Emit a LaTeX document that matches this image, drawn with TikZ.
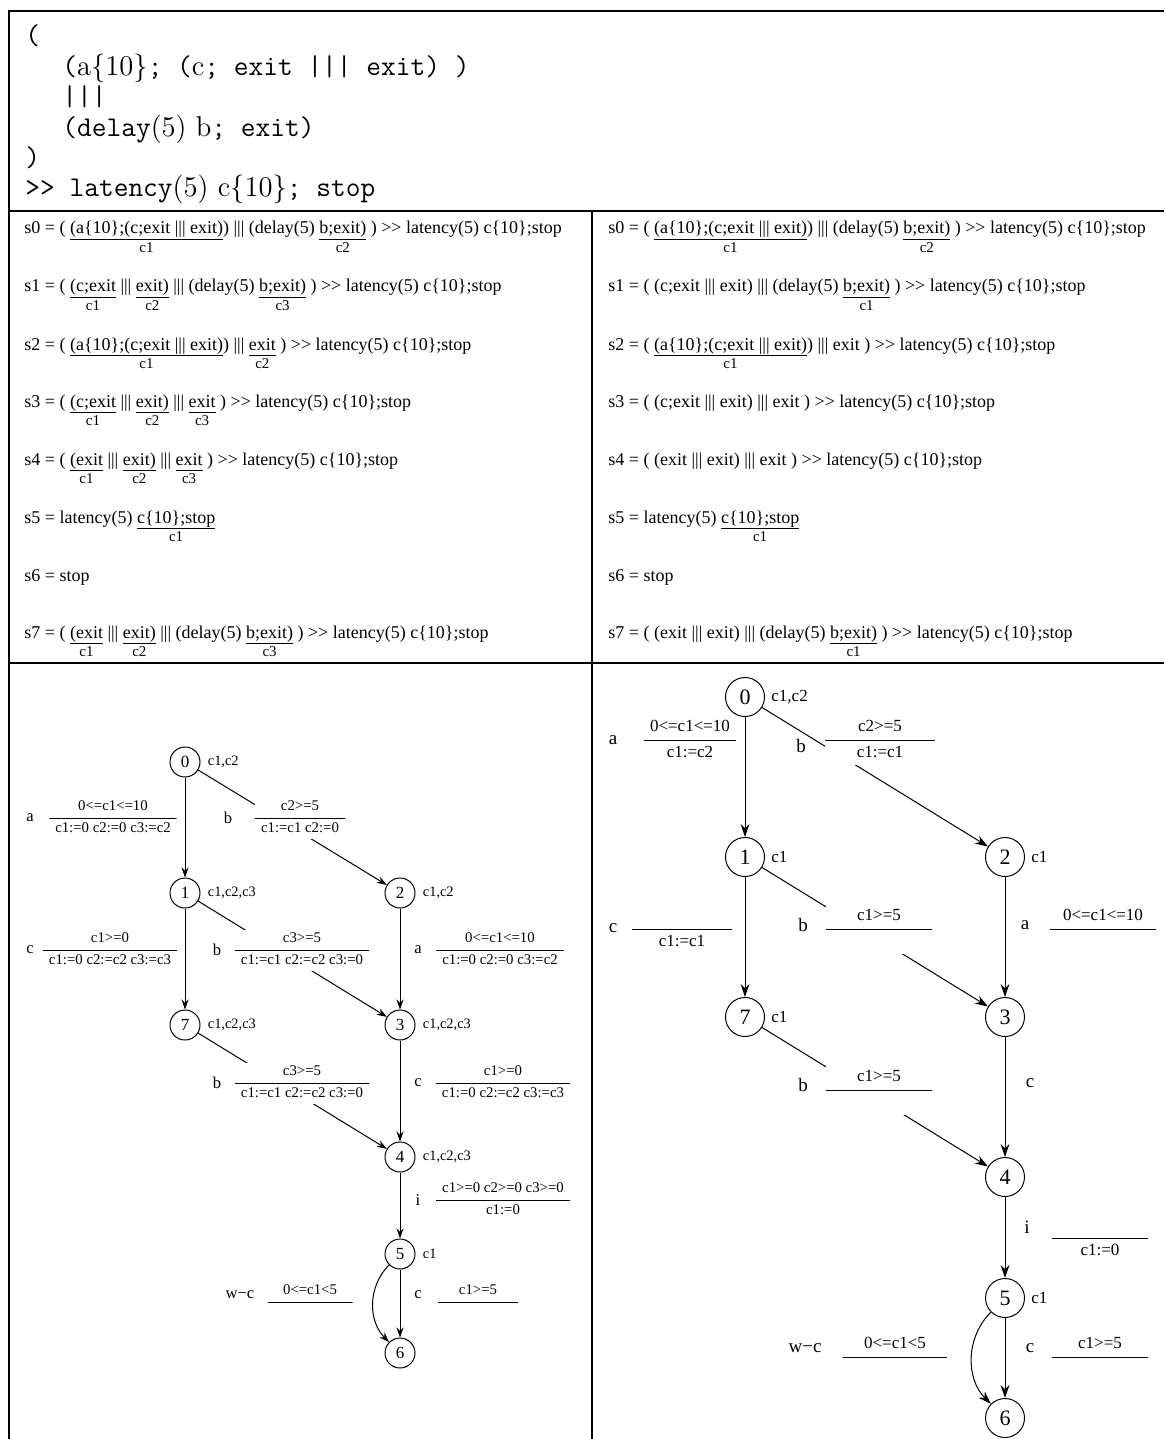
\documentclass[tikz,border=0pt]{standalone}
\usepackage{fontspec}
\newfontfamily\tms{Liberation Serif}
\usetikzlibrary{arrows.meta, positioning}

% underlined part of a state term with its clock below
\newcommand{\clk}[2]{{\def\arraystretch{0.8}\begin{tabular}[t]{@{}c@{}}#1\\\hline{\fontsize{7.5}{9}\selectfont#2}\end{tabular}}}
% guard over reset
\newcommand{\grd}[2]{\strut#1\\[1.5pt]\strut#2}

\begin{document}
\begin{tikzpicture}[
    x=0.5pt, y=-0.5pt,
    tabrule/.style={line width=1pt},
    code/.style={anchor=base west, inner sep=0pt, font=\fontsize{14.3}{17}\selectfont},
    staterow/.style={anchor=base west, inner sep=0pt, font=\tms\fontsize{9}{11}\selectfont},
    st/.style={circle, draw, line width=0.5pt, minimum size=15pt, inner sep=0pt, font=\tms\fontsize{8.5}{10}\selectfont},
    bigst/.style={st, minimum size=19.5pt, font=\tms\fontsize{11}{13}\selectfont},
    clks/.style={inner sep=1pt, font=\tms\fontsize{7.2}{8}\selectfont},
    bigclks/.style={clks, font=\tms\fontsize{8.5}{10}\selectfont},
    act/.style={inner sep=0pt, font=\tms\fontsize{8.3}{9}\selectfont},
    bigact/.style={act, font=\tms\fontsize{9.5}{11}\selectfont},
    guard/.style={fill=white, inner xsep=3pt, inner ysep=0pt, align=center,
        font=\tms\fontsize{7.4}{9.5}\selectfont,
        path picture={\draw[line width=0.5pt] (path picture bounding box.west) -- (path picture bounding box.east);}},
    bigguard/.style={guard, font=\tms\fontsize{8.5}{11.5}\selectfont, minimum width=50pt},
    arr/.style={-{Stealth[length=5pt, width=3.5pt]}, line width=0.5pt},
    bigarr/.style={-{Stealth[length=6.5pt, width=4.4pt]}, line width=0.5pt}
]
\useasboundingbox (0,0) rectangle (1164,1439);

% ============ TABLE ============
\draw[tabrule] (1164,11) -- (9,11) -- (9,1439);
\draw[tabrule] (9,211) -- (1164,211);
\draw[tabrule] (592,211) -- (592,1439);
\draw[tabrule] (9,663) -- (1164,663);

% ============ SPECIFICATION ============
\node[code] (c1) at (25,45) {\texttt{(}};
\node[code] (c2) at (62,75.4) {\texttt{(}a\{10\}\texttt{; (}c\texttt{; exit ||| exit) )}};
\node[code] (c3) at (62,105.8) {\texttt{|||}};
\node[code] (c4) at (62,136.2) {\texttt{(delay}(5) b\texttt{; exit)}};
\node[code] (c5) at (25,166.6) {\texttt{)}};
\node[code] (c6) at (25,197) {\texttt{>> latency}(5) c\{10\}\texttt{; stop}};

% ============ STATES, LEFT ============
\node[staterow] (ls0) at (24,234) {s0 = ( \clk{(a\{10\};(c;exit ||| exit)}{c1}) ||| (delay(5) \clk{b;exit)}{c2} ) >> latency(5) c\{10\};stop};
\node[staterow] (ls1) at (24,292) {s1 = ( \clk{(c;exit}{c1} ||| \clk{exit)}{c2} ||| (delay(5) \clk{b;exit)}{c3} ) >> latency(5) c\{10\};stop};
\node[staterow] (ls2) at (24,350) {s2 = ( \clk{(a\{10\};(c;exit ||| exit)}{c1}) ||| \clk{exit}{c2} ) >> latency(5) c\{10\};stop};
\node[staterow] (ls3) at (24,407) {s3 = ( \clk{(c;exit}{c1} ||| \clk{exit)}{c2} ||| \clk{exit}{c3} ) >> latency(5) c\{10\};stop};
\node[staterow] (ls4) at (24,465) {s4 = ( \clk{(exit}{c1} ||| \clk{exit)}{c2} ||| \clk{exit}{c3} ) >> latency(5) c\{10\};stop};
\node[staterow] (ls5) at (24,523) {s5 = latency(5) \clk{c\{10\};stop}{c1}};
\node[staterow] (ls6) at (24,581) {s6 = stop};
\node[staterow] (ls7) at (24,638) {s7 = ( \clk{(exit}{c1} ||| \clk{exit)}{c2} ||| (delay(5) \clk{b;exit)}{c3} ) >> latency(5) c\{10\};stop};

% ============ STATES, RIGHT ============
\node[staterow] (rs0) at (608,234) {s0 = ( \clk{(a\{10\};(c;exit ||| exit)}{c1}) ||| (delay(5) \clk{b;exit)}{c2} ) >> latency(5) c\{10\};stop};
\node[staterow] (rs1) at (608,292) {s1 = ( (c;exit ||| exit) ||| (delay(5) \clk{b;exit)}{c1} ) >> latency(5) c\{10\};stop};
\node[staterow] (rs2) at (608,350) {s2 = ( \clk{(a\{10\};(c;exit ||| exit)}{c1}) ||| exit ) >> latency(5) c\{10\};stop};
\node[staterow] (rs3) at (608,407) {s3 = ( (c;exit ||| exit) ||| exit ) >> latency(5) c\{10\};stop};
\node[staterow] (rs4) at (608,465) {s4 = ( (exit ||| exit) ||| exit ) >> latency(5) c\{10\};stop};
\node[staterow] (rs5) at (608,523) {s5 = latency(5) \clk{c\{10\};stop}{c1}};
\node[staterow] (rs6) at (608,581) {s6 = stop};
\node[staterow] (rs7) at (608,638) {s7 = ( (exit ||| exit) ||| (delay(5) \clk{b;exit)}{c1} ) >> latency(5) c\{10\};stop};

% ============ LEFT AUTOMATON ============
\node[st] (l0) at (185,762) {0};
\node[st] (l1) at (185,893) {1};
\node[st] (l2) at (400,893) {2};
\node[st] (l7) at (185,1025) {7};
\node[st] (l3) at (400,1025) {3};
\node[st] (l4) at (400,1157) {4};
\node[st] (l5) at (400,1254) {5};
\node[st] (l6) at (400,1353) {6};

\node[clks, right=2.5pt of l0] {c1,c2};
\node[clks, right=2.5pt of l1] {c1,c2,c3};
\node[clks, right=2.5pt of l2] {c1,c2};
\node[clks, right=2.5pt of l7] {c1,c2,c3};
\node[clks, right=2.5pt of l3] {c1,c2,c3};
\node[clks, right=2.5pt of l4] {c1,c2,c3};
\node[clks, right=2.5pt of l5] {c1};

\draw[arr] (l0) -- (l1);
\draw[arr] (l0) -- (l2);
\draw[arr] (l1) -- (l7);
\draw[arr] (l1) -- (l3);
\draw[arr] (l2) -- (l3);
\draw[arr] (l7) -- (l4);
\draw[arr] (l3) -- (l4);
\draw[arr] (l4) -- (l5);
\draw[arr] (l5) -- (l6);
\draw[arr] (l5) to[bend right=45] (l6);

\node[act] (la01) at (30,818) {a};
\node[guard] (lg01) at (113,818) {\grd{0<=c1<=10}{c1:=0 c2:=0 c3:=c2}};
\node[act] (la02) at (228,818) {b};
\node[guard] (lg02) at (300,818) {\grd{c2>=5}{c1:=c1 c2:=0}};
\node[act] (la17) at (30,950) {c};
\node[guard] (lg17) at (110,950) {\grd{c1>=0}{c1:=0 c2:=c2 c3:=c3}};
\node[act] (la13) at (217,950) {b};
\node[guard] (lg13) at (302,950) {\grd{c3>=5}{c1:=c1 c2:=c2 c3:=0}};
\node[act] (la23) at (418,950) {a};
\node[guard] (lg23) at (500,950) {\grd{0<=c1<=10}{c1:=0 c2:=0 c3:=c2}};
\node[act] (la74) at (217,1083) {b};
\node[guard] (lg74) at (302,1083) {\grd{c3>=5}{c1:=c1 c2:=c2 c3:=0}};
\node[act] (la34) at (418,1083) {c};
\node[guard] (lg34) at (503,1083) {\grd{c1>=0}{c1:=0 c2:=c2 c3:=c3}};
\node[act] (la45) at (418,1200) {i};
\node[guard] (lg45) at (503,1200) {\grd{c1>=0 c2>=0 c3>=0}{c1:=0}};
\node[act] (la56) at (418,1295) {c};
\node[guard, minimum width=40pt] (lg56) at (478,1302) {\grd{c1>=5}{}};
\node[act] (lw56) at (240,1295) {w−c};
\node[guard, minimum width=42.5pt] (lgw56) at (310,1302) {\grd{0<=c1<5}{}};

% ============ RIGHT AUTOMATON ============
\node[bigst] (r0) at (745,697) {0};
\node[bigst] (r1) at (745,857) {1};
\node[bigst] (r2) at (1005,857) {2};
\node[bigst] (r7) at (745,1017) {7};
\node[bigst] (r3) at (1005,1017) {3};
\node[bigst] (r4) at (1005,1177) {4};
\node[bigst] (r5) at (1005,1298) {5};
\node[bigst] (r6) at (1005,1418) {6};

\node[bigclks, right=2pt of r0] {c1,c2};
\node[bigclks, right=2pt of r1] {c1};
\node[bigclks, right=2pt of r2] {c1};
\node[bigclks, right=2pt of r7] {c1};
\node[bigclks, right=2pt of r5] {c1};

\draw[bigarr] (r0) -- (r1);
\draw[bigarr] (r0) -- (r2);
\draw[bigarr] (r1) -- (r7);
\draw[bigarr] (r1) -- (r3);
\draw[bigarr] (r2) -- (r3);
\draw[bigarr] (r7) -- (r4);
\draw[bigarr] (r3) -- (r4);
\draw[bigarr] (r4) -- (r5);
\draw[bigarr] (r5) -- (r6);
\draw[bigarr] (r5) to[bend right=45] (r6);

\node[bigact] (ra01) at (613,740) {a};
\node[bigguard, minimum width=45pt] (rg01) at (690,740) {\grd{0<=c1<=10}{c1:=c2}};
\node[bigact] (ra02) at (801,746) {b};
\node[bigguard, minimum width=55pt] (rg02) at (880,740) {\grd{c2>=5}{c1:=c1}};
\node[bigact] (ra17) at (613,928) {c};
\node[bigguard] (rg17) at (682,929) {\grd{}{c1:=c1}};
\node[bigact] (ra13) at (803,925) {b};
\node[bigguard, minimum width=53pt] (rg13) at (879,929) {\grd{c1>=5}{}};
\node[bigact] (ra23) at (1025,925) {a};
\node[bigguard, minimum width=53pt] (rg23) at (1103,929) {\grd{0<=c1<=10}{}};
\node[bigact] (ra74) at (803,1085) {b};
\node[bigguard, minimum width=53pt] (rg74) at (879,1090) {\grd{c1>=5}{}};
\node[bigact] (ra34) at (1030,1083) {c};
\node[bigact] (ra45) at (1027,1227) {i};
\node[bigguard, minimum width=48pt] (rg45) at (1100,1238) {\grd{}{c1:=0}};
\node[bigact] (ra56) at (1030,1348) {c};
\node[bigguard, minimum width=48pt] (rg56) at (1100,1357) {\grd{c1>=5}{}};
\node[bigact] (rw56) at (805,1348) {w−c};
\node[bigguard, minimum width=52pt] (rgw56) at (895,1357) {\grd{0<=c1<5}{}};

\end{tikzpicture}
\end{document}
